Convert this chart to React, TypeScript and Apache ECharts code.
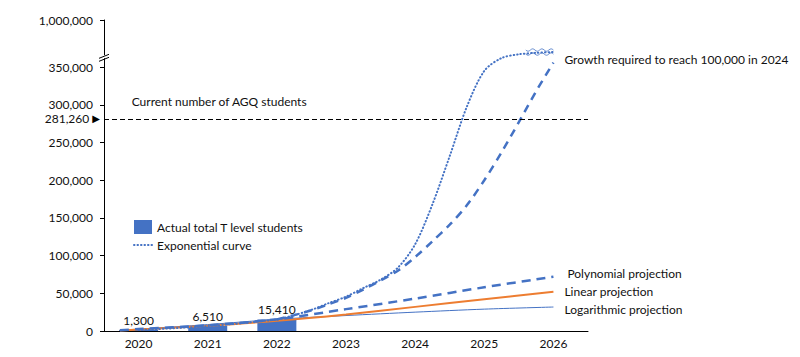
import React, { useEffect, useRef } from 'react';
import * as echarts from 'echarts';

const years = ['2020', '2021', '2022', '2023', '2024', '2025', '2026'];
const actualStudents = [1300, 6510, 15410, null, null, null, null];

const exponentialYears = [2020, 2021, 2022, 2022.25, 2022.5, 2022.75, 2023, 2023.25, 2023.5, 2023.75, 2024, 2024.25, 2024.5, 2024.75, 2025, 2025.25, 2025.5, 2025.75, 2026];
const exponentialValues = [1300, 6510, 15410, 21000, 28000, 37000, 45500, 57000, 68000, 84000, 115000, 168000, 232000, 298000, 345000, 362000, 367000, 369000, 370000];

const growthYears = [2022, 2022.25, 2022.5, 2022.75, 2023, 2023.25, 2023.5, 2023.75, 2024, 2024.25, 2024.5, 2024.75, 2025, 2025.25, 2025.5, 2025.75, 2026];
const growthValues = [15410, 21000, 27500, 35500, 44000, 55000, 67000, 80000, 98000, 119000, 141000, 167000, 200000, 237000, 277000, 318000, 356000];

const trendYears = [2019.73, 2020, 2021, 2022, 2023, 2024, 2025, 2026];
const polynomialValues = [1000, 2500, 7500, 15500, 29000, 43000, 58000, 72000];
const linearValues = [500, 2000, 7000, 13500, 22000, 32000, 42000, 52000];
const logarithmicValues = [1000, 2500, 8500, 15500, 20500, 25000, 29000, 31800];

const currentStudents = 281260;
const yTickValues = [0, 50000, 100000, 150000, 200000, 250000, 300000, 350000];
const yBreakTop = 412500;
const yBreakTopLabel = '1,000,000';
const yBreakAt = 363000;

const BLUE = '#4472C4';
const ORANGE = '#ED7D31';
const FONT = 'Lato';
const TEXT = '#111';

const pairs = (xs: number[], ys: number[]) => xs.map((x, i) => [x, ys[i]]);

export default function App() {
  const ref = useRef<HTMLDivElement>(null);
  useEffect(() => {
    document.body.style.margin = '0';
    const chart = echarts.init(ref.current!, null, { renderer: 'svg' });
    const allTicks = [...yTickValues, yBreakTop];
    chart.setOption({
      animation: false,
      backgroundColor: '#fff',
      textStyle: { fontFamily: FONT, color: TEXT },
      grid: { left: 104, right: 212, top: 20, bottom: 26 },
      legend: {
        left: 128,
        top: 215,
        orient: 'vertical',
        itemGap: 5,
        itemWidth: 18,
        itemHeight: 14,
        textStyle: { fontFamily: FONT, fontSize: 12, color: TEXT },
        data: [
          { name: 'Actual total T level students', icon: 'rect' },
          { name: 'Exponential curve', itemStyle: { opacity: 0 } },
        ],
      },
      xAxis: [
        {
          type: 'category',
          data: years,
          boundaryGap: true,
          axisLine: { lineStyle: { color: '#000', width: 1 } },
          axisTick: { show: false },
          axisLabel: { color: TEXT, fontSize: 12, fontFamily: FONT, margin: 6 },
          splitLine: { show: false },
        },
        {
          type: 'value',
          min: 2019.5,
          max: 2026.5,
          show: false,
          splitLine: { show: false },
        },
      ],
      yAxis: {
        type: 'value',
        min: 0,
        max: yBreakTop,
        axisLine: { show: true, lineStyle: { color: '#000', width: 1 } },
        axisTick: { show: true, length: 4, customValues: allTicks, lineStyle: { color: '#000' } },
        axisLabel: {
          customValues: allTicks,
          color: TEXT,
          fontSize: 12,
          fontFamily: FONT,
          margin: 11,
          formatter: (v: number) => (v === yBreakTop ? yBreakTopLabel : v.toLocaleString('en-US')),
        },
        splitLine: { show: false },
      },
      series: [
        {
          name: 'Actual total T level students',
          type: 'bar',
          xAxisIndex: 0,
          data: actualStudents,
          barWidth: 39,
          z: 3,
          itemStyle: { color: BLUE },
          label: {
            show: true,
            position: 'top',
            distance: 4,
            color: TEXT,
            fontSize: 12,
            fontFamily: FONT,
            formatter: (p: any) => Number(p.value).toLocaleString('en-US'),
          },
          markLine: {
            silent: true,
            symbol: ['none', 'none'],
            lineStyle: { color: '#000', type: [5, 3], width: 1 },
            data: [{ yAxis: currentStudents }],
            label: {
              show: true,
              position: 'start',
              distance: 4,
              formatter: '{a|' + currentStudents.toLocaleString('en-US') + '} {b|▶}',
              rich: {
                a: { fontFamily: FONT, fontSize: 12, color: TEXT },
                b: { fontFamily: 'DejaVu Sans', fontSize: 10, color: '#000' },
              },
            },
          },
        },
        {
          name: 'Logarithmic projection',
          type: 'line',
          xAxisIndex: 1,
          data: pairs(trendYears, logarithmicValues),
          symbol: 'none',
          smooth: 0.3,
          lineStyle: { color: BLUE, width: 1 },
          itemStyle: { color: BLUE },
          endLabel: { show: true, formatter: 'Logarithmic projection', distance: 11, offset: [0, 2], color: TEXT, fontSize: 12, fontFamily: FONT },
        },
        {
          name: 'Linear projection',
          type: 'line',
          xAxisIndex: 1,
          data: pairs(trendYears, linearValues),
          symbol: 'none',
          smooth: 0.3,
          lineStyle: { color: ORANGE, width: 2 },
          itemStyle: { color: ORANGE },
          endLabel: { show: true, formatter: 'Linear projection', distance: 11, offset: [0, 0], color: TEXT, fontSize: 12, fontFamily: FONT },
        },
        {
          name: 'Polynomial projection',
          type: 'line',
          xAxisIndex: 1,
          data: pairs(trendYears, polynomialValues),
          symbol: 'none',
          smooth: 0.3,
          lineStyle: { color: BLUE, width: 2.5, type: [9, 6] },
          itemStyle: { color: BLUE },
          endLabel: { show: true, formatter: 'Polynomial projection', distance: 14, offset: [0, -3], color: TEXT, fontSize: 12, fontFamily: FONT },
        },
        {
          name: 'Growth required to reach 100,000 in 2024',
          type: 'line',
          xAxisIndex: 1,
          data: pairs(growthYears, growthValues),
          symbol: 'none',
          smooth: 0.3,
          lineStyle: { color: BLUE, width: 2.5, type: [8, 6] },
          itemStyle: { color: BLUE },
          endLabel: { show: true, formatter: 'Growth required to reach 100,000 in 2024', distance: 11, offset: [0, -3], color: TEXT, fontSize: 12, fontFamily: FONT },
        },
        {
          name: 'Exponential curve',
          type: 'line',
          xAxisIndex: 1,
          data: pairs(exponentialYears, exponentialValues),
          symbol: 'none',
          smooth: 0.3,
          lineStyle: { color: BLUE, width: 2, type: [0.5, 3], cap: 'round' },
          itemStyle: { color: BLUE },
        },
      ],
    });

    const p = (x: number, y: number) => chart.convertToPixel({ xAxisIndex: 1, yAxisIndex: 0 }, [x, y]) as number[];
    const axisBreak = p(2019.5, yBreakAt);
    const annot = p(2019.9, 305000);
    const waveStart = p(2025.6, 370000);
    const waveEnd = p(2026.0, 370000);
    const wave = (dy: number) => {
      const pts: number[][] = [];
      const n = 24;
      for (let i = 0; i <= n; i++) {
        const x = waveStart[0] + ((waveEnd[0] - waveStart[0]) * i) / n;
        pts.push([x, waveStart[1] + dy + Math.sin((i / n) * Math.PI * 6) * 1.2]);
      }
      return pts;
    };
    chart.setOption({
      graphic: [
        { type: 'rect', shape: { x: axisBreak[0] - 1, y: axisBreak[1] - 2, width: 2, height: 3 }, style: { fill: '#fff' }, z: 100 },
        { type: 'line', shape: { x1: axisBreak[0] - 5, y1: axisBreak[1] + 1, x2: axisBreak[0] + 5, y2: axisBreak[1] - 3 }, style: { stroke: '#000', lineWidth: 1 }, z: 101 },
        { type: 'line', shape: { x1: axisBreak[0] - 5, y1: axisBreak[1] + 4, x2: axisBreak[0] + 5, y2: axisBreak[1] }, style: { stroke: '#000', lineWidth: 1 }, z: 101 },
        { type: 'polyline', shape: { points: wave(-2) }, style: { stroke: BLUE, lineWidth: 0.8, fill: null }, z: 101 },
        { type: 'polyline', shape: { points: wave(2) }, style: { stroke: BLUE, lineWidth: 0.8, fill: null }, z: 101 },
        {
          type: 'text',
          x: annot[0],
          y: annot[1],
          style: { text: 'Current number of AGQ students', fontFamily: FONT, fontSize: 12, fill: TEXT, textVerticalAlign: 'middle' },
          z: 101,
        },
      ],
    });
    return () => chart.dispose();
  }, []);
  return <div ref={ref} style={{ position: 'fixed', left: 0, top: 0, width: 800, height: 357 }} />;
}
